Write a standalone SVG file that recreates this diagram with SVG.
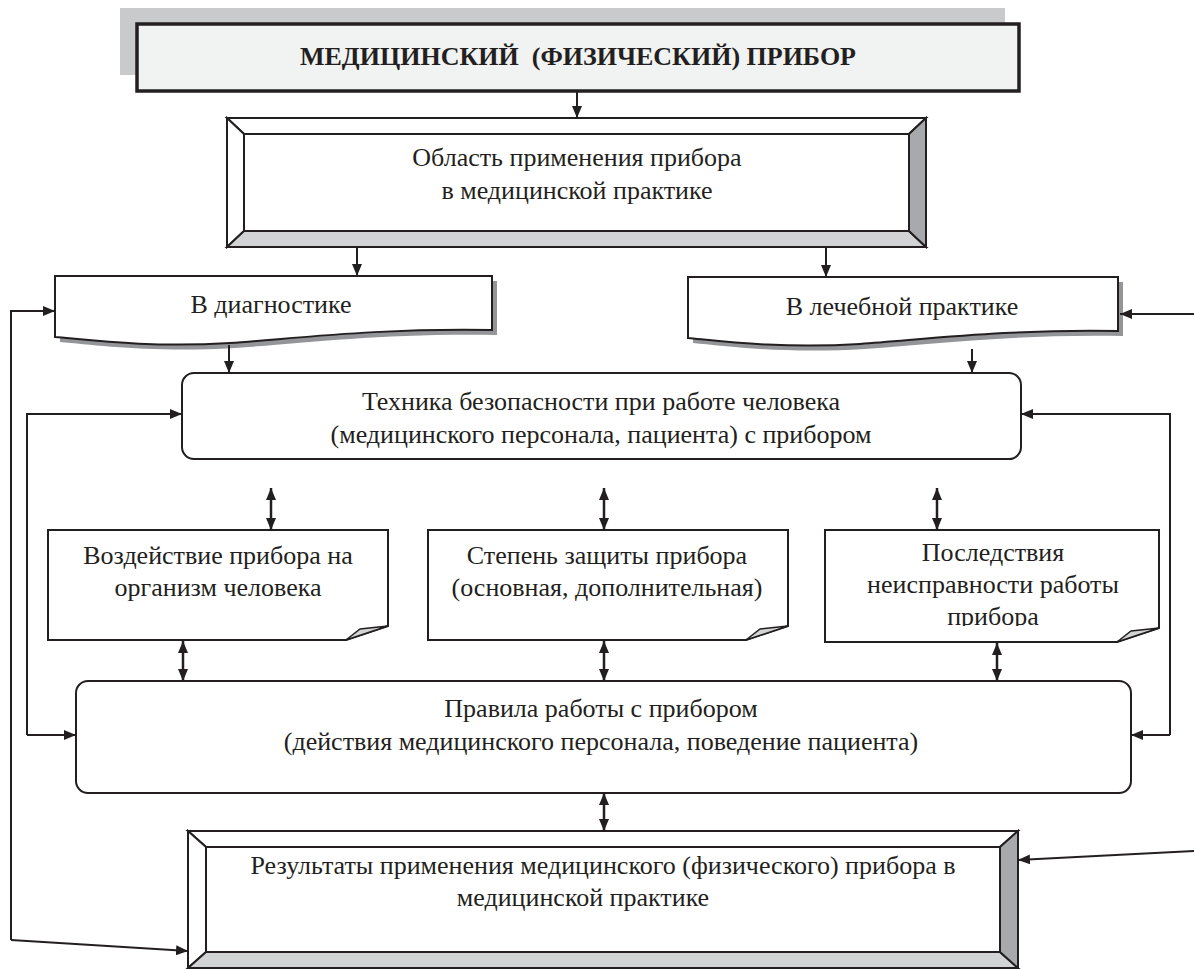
<svg xmlns="http://www.w3.org/2000/svg" width="1194" height="969" viewBox="0 0 1194 969">
<style>
.t{font-family:"Liberation Serif","Times New Roman",serif;font-size:26px;fill:#231f20;text-anchor:middle}
.b{font-weight:bold;font-size:26px;white-space:pre}
.ln{stroke:#231f20;stroke-width:2;fill:none}
.dbl{stroke:#231f20;stroke-width:2.5;fill:none}
.box{fill:#fff;stroke:#231f20;stroke-width:2}
.bv{stroke:#231f20;stroke-width:2;stroke-linejoin:miter}
.curl{fill:#d1d3d4;stroke:#231f20;stroke-width:1.5}
.shadow{fill:#939598}
</style>
<defs>
<marker id="ah" markerUnits="userSpaceOnUse" markerWidth="12" markerHeight="10" refX="12" refY="5" orient="auto-start-reverse"><path d="M0,0 L12,5 L0,10 Z" fill="#231f20"/></marker>
<clipPath id="clipC"><rect x="825" y="530" width="334" height="96"/></clipPath>
</defs>
<rect width="1194" height="969" fill="#fff"/>

<g id="node-device">
<rect x="120" y="8" width="885" height="67" fill="#c9cacc"/>
<rect x="137" y="24" width="882" height="67" fill="#f1f2f2" stroke="#231f20" stroke-width="3.5"/>
<text class="t b" x="578" y="65" xml:space="preserve">МЕДИЦИНСКИЙ  (ФИЗИЧЕСКИЙ) ПРИБОР</text>
</g>

<g id="node-area">
<polygon class="bv" fill="#fff" points="227,118 926,118 909,134 244,134"/>
<polygon class="bv" fill="#fff" points="227,118 244,134 244,231 227,247"/>
<polygon class="bv" fill="#d1d3d4" points="227,247 244,231 909,231 926,247"/>
<polygon class="bv" fill="#a7a9ac" points="926,118 909,134 909,231 926,247"/>
<rect x="244" y="134" width="665" height="97" fill="#fff" stroke="#231f20" stroke-width="2"/>
<text class="t" x="577" y="166">Область применения прибора</text>
<text class="t" x="577" y="199">в медицинской практике</text>
</g>

<g id="node-diag">
<path class="shadow" transform="translate(5,5)" d="M55,276 H492 V330 C380,328 300,338 230,343 C150,348 90,340 55,337 Z"/>
<path class="box" d="M55,276 H492 V330 C380,328 300,338 230,343 C150,348 90,340 55,337 Z"/>
<text class="t" x="271" y="313">В диагностике</text>
</g>

<g id="node-therapy">
<path class="shadow" transform="translate(5,5)" d="M688,277 H1118 V331 C1010,329 930,339 860,344 C780,349 720,341 688,338 Z"/>
<path class="box" d="M688,277 H1118 V331 C1010,329 930,339 860,344 C780,349 720,341 688,338 Z"/>
<text class="t" x="902" y="315">В лечебной практике</text>
</g>

<g id="node-safety">
<rect class="box" x="182" y="373" width="839" height="86" rx="12"/>
<text class="t" x="601" y="410">Техника безопасности при работе человека</text>
<text class="t" x="601" y="443">(медицинского персонала, пациента) с прибором</text>
</g>

<g id="node-impact">
<path class="box" d="M48,530 H388 V626 L346,640 H48 Z"/>
<polygon class="curl" points="346,640 360,629 388,626"/>
<text class="t" x="218" y="564">Воздействие прибора на</text>
<text class="t" x="218" y="596">организм человека</text>
</g>

<g id="node-protection">
<path class="box" d="M428,530 H788 V626 L746,640 H428 Z"/>
<polygon class="curl" points="746,640 760,629 788,626"/>
<text class="t" x="607" y="564">Степень защиты прибора</text>
<text class="t" x="607" y="596">(основная, дополнительная)</text>
</g>

<g id="node-failure">
<path class="box" d="M825,530 H1159 V628 L1117,642 H825 Z"/>
<polygon class="curl" points="1117,642 1131,631 1159,628"/>
<g clip-path="url(#clipC)">
<text class="t" x="993" y="561">Последствия</text>
<text class="t" x="993" y="593">неисправности работы</text>
<text class="t" x="993" y="625">прибора</text>
</g>
</g>

<g id="node-rules">
<rect class="box" x="76" y="681" width="1055" height="112" rx="12"/>
<text class="t" x="601" y="717">Правила работы с прибором</text>
<text class="t" x="601" y="750">(действия медицинского персонала, поведение пациента)</text>
</g>

<g id="node-results">
<polygon class="bv" fill="#fff" points="188,831 1018,831 1000,847 206,847"/>
<polygon class="bv" fill="#fff" points="188,831 206,847 206,952 188,968"/>
<polygon class="bv" fill="#d1d3d4" points="188,968 206,952 1000,952 1018,968"/>
<polygon class="bv" fill="#a7a9ac" points="1018,831 1000,847 1000,952 1018,968"/>
<rect x="206" y="847" width="794" height="105" fill="#fff" stroke="#231f20" stroke-width="2"/>
<text class="t" x="603" y="874">Результаты применения медицинского (физического) прибора в</text>
<text class="t" x="583" y="906">медицинской практике</text>
</g>

<g id="connectors">
<path class="ln" d="M577,92 V118" marker-end="url(#ah)"/>
<path class="ln" d="M357,248 V276" marker-end="url(#ah)"/>
<path class="ln" d="M826,248 V277" marker-end="url(#ah)"/>
<path class="ln" d="M229,345 V373" marker-end="url(#ah)"/>
<path class="ln" d="M972,349 V373" marker-end="url(#ah)"/>
<path class="ln" d="M11,940 V311 H55" marker-end="url(#ah)"/>
<path class="ln" d="M11,940 L188,951" marker-end="url(#ah)"/>
<path class="ln" d="M27,735 V414 H182" marker-end="url(#ah)"/>
<path class="ln" d="M27,735 H76" marker-end="url(#ah)"/>
<path class="ln" d="M1170,735 V414 H1021" marker-end="url(#ah)"/>
<path class="ln" d="M1170,735 H1131" marker-end="url(#ah)"/>
<path class="ln" d="M1194,314 H1120" marker-end="url(#ah)"/>
<path class="ln" d="M1194,851 L1018,860" marker-end="url(#ah)"/>
<path class="dbl" d="M271,488 V530" marker-start="url(#ah)" marker-end="url(#ah)"/>
<path class="dbl" d="M604,488 V530" marker-start="url(#ah)" marker-end="url(#ah)"/>
<path class="dbl" d="M937,488 V530" marker-start="url(#ah)" marker-end="url(#ah)"/>
<path class="dbl" d="M183,641 V681" marker-start="url(#ah)" marker-end="url(#ah)"/>
<path class="dbl" d="M604,641 V681" marker-start="url(#ah)" marker-end="url(#ah)"/>
<path class="dbl" d="M997,643 V681" marker-start="url(#ah)" marker-end="url(#ah)"/>
<path class="dbl" d="M604,793 V831" marker-start="url(#ah)" marker-end="url(#ah)"/>
</g>
</svg>
